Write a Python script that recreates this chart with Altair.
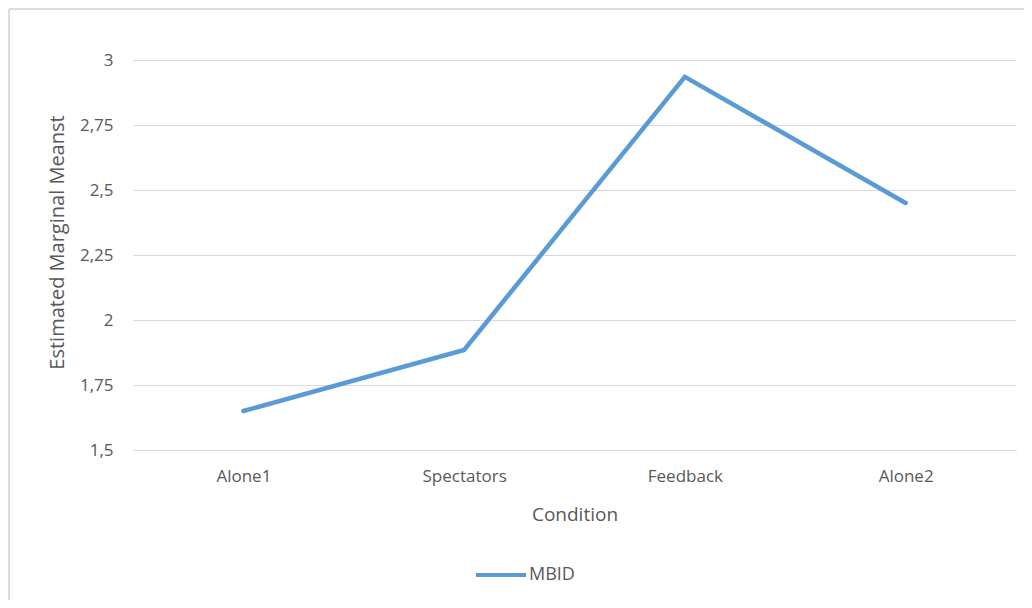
import altair as alt
import pandas as pd

conditions = ["Alone1", "Spectators", "Feedback", "Alone2"]
mbid = [1.65, 1.885, 2.935, 2.45]
series = ["MBID"] * 4
y_ticks = [1.5, 1.75, 2, 2.25, 2.5, 2.75, 3]

df = pd.DataFrame({"Condition": conditions, "value": mbid, "series": series})

FONT = "Open Sans"
GREY = "#595959"

line = alt.Chart(df).mark_line(strokeWidth=4.5, strokeCap="round", strokeJoin="miter").encode(
    x=alt.X("Condition:N", sort=conditions,
            scale=alt.Scale(type="point", padding=0.5),
            axis=alt.Axis(title="Condition", labelAngle=0, labelFontSize=17, labelColor=GREY,
                          labelFont=FONT, titleFont=FONT, titleFontSize=19, titleColor=GREY,
                          titleFontWeight="normal", ticks=False, domain=True, domainColor="#d9d9d9",
                          labelPadding=18, titlePadding=21, grid=False)),
    y=alt.Y("value:Q", scale=alt.Scale(domain=[1.5, 3], nice=False, zero=False),
            axis=alt.Axis(title="Estimated Marginal Meanst", values=y_ticks,
                          labelExpr="replace(format(datum.value, ''), '.', ',')",
                          labelFontSize=17, labelColor=GREY, labelFont=FONT,
                          titleFont=FONT, titleFontSize=20, titleColor=GREY, titleFontWeight="normal",
                          ticks=False, domain=False, gridColor="#d9d9d9", gridWidth=1,
                          labelPadding=20, titleX=-76, titleY=182, titleAngle=270,
                          titleAlign="center", titleBaseline="middle")),
    color=alt.Color("series:N", scale=alt.Scale(range=["#5B9BD5"]),
                    legend=alt.Legend(title=None, orient="none", legendX=341, legendY=488,
                                      symbolType="stroke", symbolSize=2500, symbolStrokeWidth=4,
                                      labelFont=FONT, labelFontSize=18, labelColor=GREY,
                                      labelOffset=1))
)

frame_top = alt.Chart(df).mark_rule(color="#d9d9d9", strokeWidth=1).encode(
    x=alt.value(-124), x2=alt.value(1100), y=alt.value(-51)
)
frame_left = alt.Chart(df).mark_rule(color="#d9d9d9", strokeWidth=1).encode(
    x=alt.value(-124), y=alt.value(-51), y2=alt.value(600)
)

chart = alt.layer(frame_top, frame_left, line).properties(
    width=883, height=390,
    autosize=alt.AutoSizeParams(type="none"),
    padding={"left": 125, "top": 52, "right": 8, "bottom": 150},
    background="white"
).configure_view(stroke=None)

chart.save("out.html", embed_options={"renderer": "svg", "actions": False})
